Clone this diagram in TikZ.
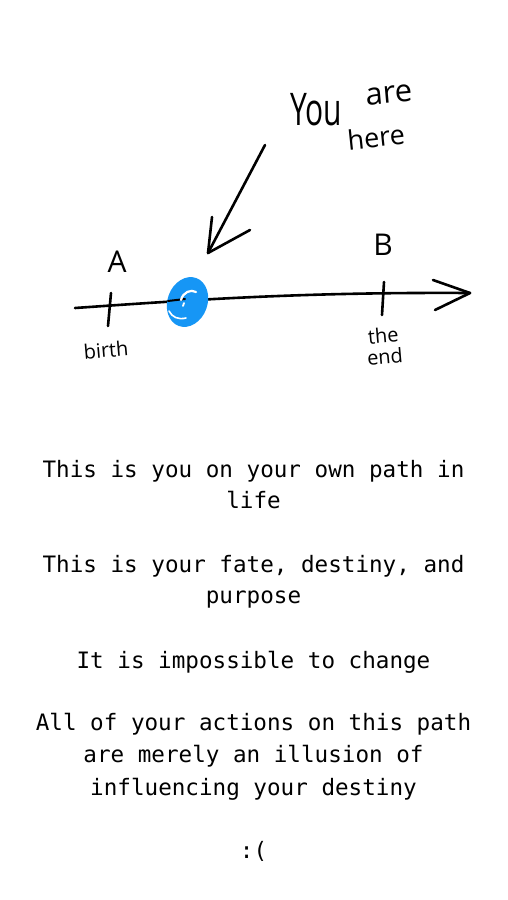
\documentclass[tikz,border=0pt]{standalone}
\usepackage{fontspec}
\setmonofont{DejaVu Sans Mono}
\newfontfamily\handfont{Open Sans}
\usetikzlibrary{shapes.geometric}
\definecolor{dotblue}{RGB}{22,150,245}
\begin{document}
\begin{tikzpicture}[x=1pt,y=-1pt,
  ink/.style={line width=2.6pt, line cap=round, line join=round, black},
  hand/.style={font=\handfont, inner sep=0pt},
  caption/.style={font=\ttfamily\fontsize{22.6}{32}\selectfont, inner sep=0pt, anchor=base},
]
\useasboundingbox[fill=white] (0,0) rectangle (507,900);
% timeline
\coordinate (start) at (75,308);
\coordinate (tip) at (470,293);
\coordinate (tipup) at (433,280);
\coordinate (tiplo) at (435,310);
\draw[ink] (start) .. controls (190,300) and (300,292) .. (tip);
\draw[ink] (tipup) -- (tip) -- (tiplo);
% ticks
\coordinate (a1) at (111,293);
\coordinate (a2) at (108,326);
\coordinate (b1) at (384,282);
\coordinate (b2) at (382,315);
\draw[ink] (a1) -- (a2);
\draw[ink] (b1) -- (b2);
% you are here dot
\node[ellipse, fill=dotblue, minimum width=40pt, minimum height=51pt, inner sep=0pt, rotate=-20] (you) at (187.5,302) {};
\draw[ink, line width=2pt] (168,301) -- (185,299);
\draw[white, line width=2.2pt, line cap=round] (181,300) .. controls (183,292) and (191,289) .. (196,292);
\draw[white, line width=1.8pt, line cap=round] (184,303) -- (183,306);
\draw[white, line width=1.6pt, line cap=round] (169,311) .. controls (172,317) and (178,320) .. (186,318);
% pointer
\coordinate (ptail) at (265,145);
\coordinate (ptip) at (208,253);
\coordinate (parmL) at (212,217);
\coordinate (parmR) at (250,230);
\draw[ink] (ptail) -- (ptip);
\draw[ink] (parmL) -- (ptip) -- (parmR);
% hand labels
\node[hand, font=\handfont\fontsize{30}{30}\selectfont] (you-lbl) at (316,110) {\scalebox{1}[1.5]{You}};
\node[hand, font=\handfont\fontsize{31}{30}\selectfont, rotate=5] (are) at (389,95) {are};
\node[hand, font=\handfont\fontsize{27}{30}\selectfont, rotate=6] (here) at (376,137) {here};
\node[hand, font=\handfont\fontsize{30}{30}\selectfont] (A) at (117,262) {A};
\node[hand, font=\handfont\fontsize{30}{30}\selectfont] (B) at (383,245) {B};
\node[hand, font=\handfont\fontsize{20}{20}\selectfont, rotate=5] (birth) at (106,350) {birth};
\node[hand, font=\handfont\fontsize{20}{21}\selectfont, align=center, rotate=5] (theend) at (384,346) {the\\end};
% captions
\node[caption] (l1) at (253.5,477) {This is you on your own path in};
\node[caption] (l2) at (253.5,508) {life};
\node[caption] (l3) at (253.5,572) {This is your fate, destiny, and};
\node[caption] (l4) at (253.5,603) {purpose};
\node[caption] (l5) at (253.5,668) {It is impossible to change};
\node[caption] (l6) at (253.5,730) {All of your actions on this path};
\node[caption] (l7) at (253.5,762) {are merely an illusion of};
\node[caption] (l8) at (253.5,795) {influencing your destiny};
\node[caption] (l9) at (253.5,858) {:(};
\end{tikzpicture}
\end{document}
